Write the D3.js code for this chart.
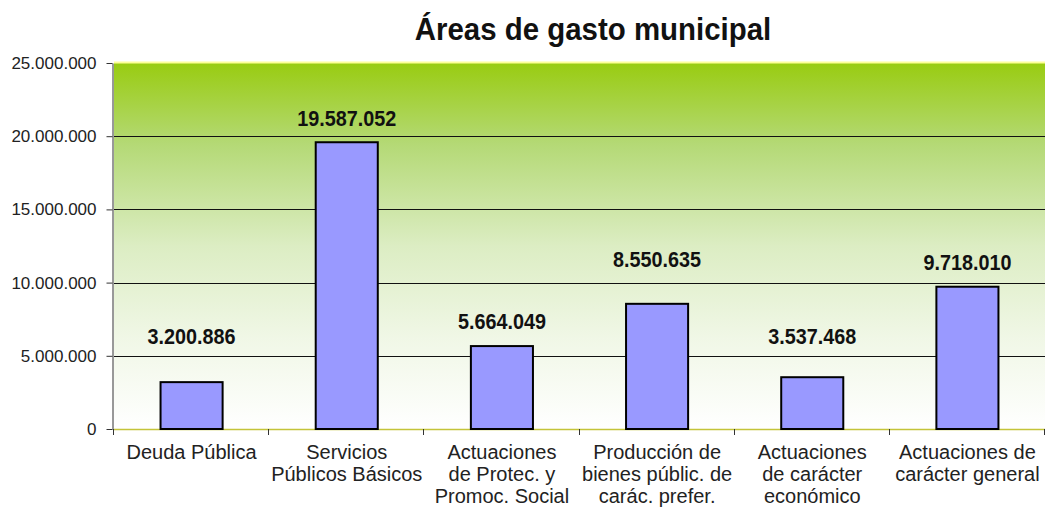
<!DOCTYPE html>
<html>
<head>
<meta charset="utf-8">
<script src="https://cdn.jsdelivr.net/npm/d3@7"></script>
<style>
  body { margin: 0; background: #fff; }
  svg { display: block; font-family: "Liberation Sans", Arial, sans-serif; }
  .axis--y .domain { stroke: #333; }
  .axis--y line { stroke: #333; }
  .axis--y text { font-family: "Liberation Sans", Arial, sans-serif; font-size: 17px; fill: #222; }
</style>
</head>
<body>
<svg width="1047" height="509"></svg>
<script>
// data
var categories = [
  "Deuda Pública",
  "Servicios Públicos Básicos",
  "Actuaciones de Protec. y Promoc. Social",
  "Producción de bienes públic. de carác. prefer.",
  "Actuaciones de carácter económico",
  "Actuaciones de carácter general"
];
// how each category label is broken in lines
var categoryLines = [
  ["Deuda Pública"],
  ["Servicios", "Públicos Básicos"],
  ["Actuaciones", "de Protec. y", "Promoc. Social"],
  ["Producción de", "bienes públic. de", "carác. prefer."],
  ["Actuaciones", "de carácter", "económico"],
  ["Actuaciones de", "carácter general"]
];
var values = [3200886, 19587052, 5664049, 8550635, 3537468, 9718010];
var yTicks = [0, 5000000, 10000000, 15000000, 20000000, 25000000];

// the data labels were nudged by hand in the original, lift above bar top (px)
var labelLift = [38, 16, 17, 37, 33, 17];

var svg = d3.select("svg"),
    margin = {top: 63, right: 2, bottom: 80, left: 114},
    width = +svg.attr("width") - margin.left - margin.right,
    height = +svg.attr("height") - margin.top - margin.bottom;

var locale = d3.formatLocale({decimal: ",", thousands: ".", grouping: [3], currency: ["", ""]});
var fmt = locale.format(",d");

var x = d3.scaleBand().domain(categories).range([0, width]).paddingInner(0.6).paddingOuter(0.3);
var y = d3.scaleLinear().domain([0, 25000000]).range([height, 0]);

// background gradient
var defs = svg.append("defs");
var grad = defs.append("linearGradient")
    .attr("id", "bg").attr("x1", 0).attr("y1", 0).attr("x2", 0).attr("y2", 1);
grad.append("stop").attr("offset", "0%").attr("stop-color", "#99cc11");
grad.append("stop").attr("offset", "22%").attr("stop-color", "#b4d975");
grad.append("stop").attr("offset", "50%").attr("stop-color", "#dcedc3");
grad.append("stop").attr("offset", "75%").attr("stop-color", "#f0f7e6");
grad.append("stop").attr("offset", "100%").attr("stop-color", "#ffffff");

var g = svg.append("g")
    .attr("transform", "translate(" + margin.left + "," + margin.top + ")");

g.append("rect")
    .attr("width", width)
    .attr("height", height)
    .attr("fill", "url(#bg)");

// light yellow top border
g.append("line")
    .attr("x1", 0).attr("x2", width)
    .attr("y1", -0.5).attr("y2", -0.5)
    .attr("stroke", "#ffff99").attr("stroke-width", 2);

// gridlines
g.append("g")
    .selectAll("line")
    .data(yTicks.slice(1, -1))
    .enter().append("line")
    .attr("x1", 0).attr("x2", width)
    .attr("y1", function(d) { return Math.round(y(d)) + 0.5; })
    .attr("y2", function(d) { return Math.round(y(d)) + 0.5; })
    .attr("stroke", "#111").attr("stroke-width", 1);

// bottom border (yellowish)
g.append("line")
    .attr("x1", 0).attr("x2", width)
    .attr("y1", height + 0.5).attr("y2", height + 0.5)
    .attr("stroke", "#c4c43a").attr("stroke-width", 1.5);

// bars
g.selectAll(".bar")
    .data(values)
    .enter().append("rect")
    .attr("class", "bar")
    .attr("x", function(d, i) { return x(categories[i]); })
    .attr("y", function(d) { return y(d); })
    .attr("width", x.bandwidth())
    .attr("height", function(d) { return height - y(d); })
    .attr("fill", "#9999ff")
    .attr("stroke", "#000")
    .attr("stroke-width", 2);

// data labels
g.selectAll(".vlabel")
    .data(values)
    .enter().append("text")
    .attr("class", "vlabel")
    .attr("transform", function(d, i) {
      return "translate(" + (x(categories[i]) + x.bandwidth() / 2) + "," + (y(d) - labelLift[i]) + ") scale(0.9,1)";
    })
    .attr("text-anchor", "middle")
    .style("font-size", "22px")
    .style("font-weight", "bold")
    .style("fill", "#111")
    .text(function(d) { return fmt(d); });

// y axis
g.append("g")
    .attr("class", "axis axis--y")
    .attr("transform", "translate(-1.5,0)")
    .call(d3.axisLeft(y).tickValues(yTicks).tickFormat(fmt).tickSize(6).tickSizeOuter(0).tickPadding(10));

// x axis ticks at category boundaries
var step = x.step();
g.append("g")
    .selectAll("line")
    .data(d3.range(categories.length + 1))
    .enter().append("line")
    .attr("x1", function(i) { return Math.round(i * step) - 0.5; })
    .attr("x2", function(i) { return Math.round(i * step) - 0.5; })
    .attr("y1", height).attr("y2", height + 6)
    .attr("stroke", "#333");

// category labels
var cat = g.append("g")
    .selectAll("text")
    .data(categoryLines)
    .enter().append("text")
    .attr("text-anchor", "middle")
    .attr("x", function(d, i) { return x(categories[i]) + x.bandwidth() / 2; })
    .attr("y", height + 30)
    .style("font-size", "20px")
    .style("fill", "#222");
cat.selectAll("tspan")
    .data(function(d) { return d; })
    .enter().append("tspan")
    .attr("x", function() { return d3.select(this.parentNode).attr("x"); })
    .attr("dy", function(d, i) { return i === 0 ? 0 : 22; })
    .text(function(d) { return d; });

// title
svg.append("text")
    .attr("transform", "translate(593,40) scale(0.92,1)")
    .attr("text-anchor", "middle")
    .style("font-size", "32px")
    .style("font-weight", "bold")
    .style("fill", "#111")
    .text("Áreas de gasto municipal");
</script>
</body>
</html>
